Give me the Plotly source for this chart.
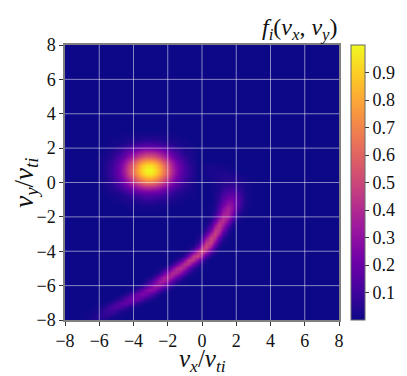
# Velocity-space distribution f_i(vx, vy): hot spot plus thin tail, plasma colormap
import numpy as np
import plotly.graph_objects as go

TICKS = [-8, -6, -4, -2, 0, 2, 4, 6, 8]
CBAR_TICKS = [0.1, 0.2, 0.3, 0.4, 0.5, 0.6, 0.7, 0.8, 0.9]
STEP = 0.25
vx = np.arange(-8, 8 + STEP, STEP)
vy = np.arange(-8, 8 + STEP, STEP)

# values, in percent of the colorbar: (vy, first vx, values every 0.25)
BLOB_ROWS = [
    (2.75, -6, [0, 0, 0, 0, 0, 1, 1, 1, 2, 2, 2, 2, 2, 2, 2, 2, 1, 1, 1, 0, 0, 0, 0]),
    (2.5, -6, [0, 0, 0, 1, 1, 1, 2, 3, 4, 4, 5, 5, 6, 5, 5, 4, 3, 2, 2, 1, 1, 0, 0]),
    (2.25, -6, [0, 0, 1, 1, 2, 3, 4, 6, 8, 10, 11, 12, 12, 11, 10, 8, 6, 5, 3, 2, 1, 1, 0]),
    (2.0, -6, [0, 1, 1, 2, 4, 6, 9, 12, 15, 18, 21, 22, 22, 21, 19, 16, 12, 9, 6, 4, 2, 2, 1]),
    (1.75, -6, [0, 1, 2, 4, 6, 10, 14, 20, 25, 31, 35, 38, 38, 36, 32, 27, 21, 15, 11, 7, 4, 3, 2]),
    (1.5, -6, [1, 2, 3, 6, 9, 15, 22, 30, 38, 46, 53, 57, 57, 54, 48, 40, 32, 23, 16, 10, 6, 4, 2]),
    (1.25, -6, [1, 2, 5, 8, 12, 20, 29, 40, 52, 63, 71, 77, 77, 73, 65, 54, 43, 31, 22, 14, 9, 5, 3]),
    (1.0, -6, [1, 3, 6, 9, 15, 24, 35, 48, 62, 75, 86, 92, 93, 87, 78, 65, 51, 37, 26, 17, 10, 7, 4]),
    (0.75, -6, [1, 3, 6, 10, 16, 26, 38, 52, 67, 81, 92, 99, 100, 94, 84, 70, 55, 40, 28, 18, 11, 7, 4]),
    (0.5, -6, [1, 3, 6, 10, 15, 25, 36, 50, 64, 77, 88, 95, 96, 90, 80, 67, 53, 38, 27, 17, 11, 7, 4]),
    (0.25, -6, [1, 2, 5, 8, 13, 21, 31, 42, 55, 66, 75, 81, 82, 77, 69, 57, 45, 33, 23, 15, 9, 6, 3]),
    (0.0, -6, [1, 2, 4, 6, 10, 16, 24, 32, 42, 50, 57, 62, 62, 59, 52, 44, 34, 25, 17, 11, 7, 4, 2]),
    (-0.25, -6, [0, 1, 3, 4, 7, 11, 16, 22, 28, 34, 39, 42, 42, 40, 36, 30, 23, 17, 12, 8, 5, 3, 2]),
    (-0.5, -6, [0, 1, 2, 3, 4, 7, 10, 13, 17, 21, 24, 25, 26, 24, 22, 18, 14, 10, 7, 5, 3, 2, 1]),
    (-0.75, -6, [0, 0, 1, 1, 2, 4, 5, 7, 9, 11, 13, 14, 14, 13, 12, 10, 8, 6, 4, 3, 2, 1, 1]),
    (-1.0, -6, [0, 0, 0, 1, 1, 2, 3, 3, 4, 5, 6, 7, 7, 6, 6, 5, 4, 3, 2, 1, 1, 0, 0]),
    (-1.25, -6, [0, 0, 0, 0, 0, 1, 1, 2, 2, 2, 3, 3, 3, 3, 2, 2, 2, 1, 1, 1, 0, 0, 0]),
    (-1.5, -6, [0, 0, 0, 0, 0, 0, 0, 1, 1, 1, 1, 1, 1, 1, 1, 1, 1, 0, 0, 0, 0, 0, 0]),
]

TAIL_ROWS = [
    (1.0, 0, [1, 2, 2, 2, 2, 1]),
    (0.75, 0, [1, 2, 3, 3, 3, 3, 2, 1]),
    (0.5, 0, [1, 2, 3, 3, 4, 4, 4, 3, 2, 1]),
    (0.25, 0.25, [1, 2, 3, 4, 5, 5, 5, 4, 2, 1]),
    (0.0, 0.5, [1, 2, 3, 5, 6, 7, 6, 4, 2, 1]),
    (-0.25, 0.5, [1, 2, 4, 7, 9, 10, 8, 5, 2, 1]),
    (-0.5, 0.75, [2, 5, 10, 14, 15, 12, 7, 3, 1]),
    (-0.75, 0.75, [3, 7, 14, 20, 22, 17, 10, 4, 1]),
    (-1.0, 0.75, [3, 9, 19, 28, 29, 21, 11, 4, 1]),
    (-1.25, 0.5, [1, 4, 12, 24, 35, 33, 22, 10, 3, 1]),
    (-1.5, 0.5, [1, 5, 16, 33, 42, 35, 19, 7, 2]),
    (-1.75, 0.5, [2, 8, 23, 40, 44, 30, 12, 3, 1]),
    (-2.0, 0.25, [1, 3, 13, 32, 47, 43, 24, 8, 2]),
    (-2.25, 0.25, [1, 7, 23, 44, 49, 31, 12, 3]),
    (-2.5, 0.25, [3, 15, 38, 53, 41, 18, 5, 1]),
    (-2.75, 0, [1, 8, 27, 51, 51, 28, 8, 1]),
    (-3.0, -0.25, [1, 4, 19, 44, 57, 40, 15, 3]),
    (-3.25, -0.25, [2, 13, 36, 57, 49, 22, 6, 1]),
    (-3.5, -0.5, [1, 8, 29, 54, 55, 30, 9, 1]),
    (-3.75, -0.75, [1, 5, 22, 49, 59, 39, 14, 3]),
    (-4.0, -1, [1, 5, 20, 46, 62, 46, 20, 5, 1]),
    (-4.25, -1.25, [2, 10, 30, 52, 57, 38, 16, 4, 1]),
    (-4.5, -1.75, [1, 4, 16, 36, 53, 51, 31, 13, 3]),
    (-4.75, -2, [2, 7, 20, 39, 51, 46, 28, 11, 3, 1]),
    (-5.0, -2.5, [1, 4, 12, 28, 45, 50, 39, 21, 8, 2]),
    (-5.25, -2.75, [2, 7, 19, 35, 47, 45, 32, 16, 6, 2]),
    (-5.5, -3.25, [1, 4, 12, 25, 39, 46, 39, 25, 12, 4, 1]),
    (-5.75, -3.5, [1, 5, 13, 25, 38, 42, 34, 20, 9, 3, 1]),
    (-6.0, -3.75, [2, 6, 16, 28, 37, 36, 26, 13, 5, 1]),
    (-6.25, -4.25, [1, 4, 11, 21, 31, 34, 28, 17, 8, 3, 1]),
    (-6.5, -4.75, [1, 4, 10, 18, 26, 30, 26, 18, 10, 4, 1]),
    (-6.75, -5.25, [1, 4, 8, 16, 23, 26, 23, 16, 8, 4, 1]),
    (-7.0, -5.75, [1, 3, 7, 13, 19, 21, 19, 13, 7, 3, 1]),
    (-7.25, -6.25, [1, 2, 5, 10, 14, 16, 14, 10, 5, 2, 1]),
    (-7.5, -6.5, [1, 2, 4, 8, 11, 11, 8, 4, 2, 1]),
    (-7.75, -6.75, [1, 2, 4, 6, 8, 7, 4, 2, 1]),
    (-8.0, -7, [1, 1, 3, 5, 4, 3, 1, 1]),
]
# tail rows came out a little hot against the reference colours
TAIL_LEVEL = 0.85

z = np.zeros((len(vy), len(vx)))
for rows, level in ((BLOB_ROWS, 1.0), (TAIL_ROWS, TAIL_LEVEL)):
    for row_vy, first_vx, values in rows:
        i = int(round((row_vy + 8) / STEP))
        j = int(round((first_vx + 8) / STEP))
        z[i, j : j + len(values)] += level * np.array(values) / 100.0

FONT = "Liberation Serif"
INK = "#111111"

fig = go.Figure()
fig.add_trace(
    go.Heatmap(
        x=vx,
        y=vy,
        z=z,
        zmin=0,
        zmax=1,
        zsmooth="best",
        colorscale="Plasma",
        colorbar=dict(
            thickness=14,
            thicknessmode="pixels",
            len=1,
            lenmode="fraction",
            x=1.0438,
            xanchor="left",
            xpad=0,
            ypad=0,
            y=0.5,
            yanchor="middle",
            tickvals=CBAR_TICKS,
            ticktext=[f"{t:.1f}" for t in CBAR_TICKS],
            ticks="outside",
            ticklen=4,
            tickcolor="#333333",
            tickfont=dict(family=FONT, size=18, color=INK),
            outlinecolor="#666666",
            outlinewidth=1,
        ),
    )
)

# grid sits on top of the image, so draw it as shapes
for t in TICKS[1:-1]:
    fig.add_shape(type="line", xref="x", yref="paper", x0=t, x1=t, y0=0, y1=1,
                  line=dict(color="rgba(255,255,255,0.5)", width=1), layer="above")
    fig.add_shape(type="line", xref="paper", yref="y", x0=0, x1=1, y0=t, y1=t,
                  line=dict(color="rgba(255,255,255,0.5)", width=1), layer="above")

axis_style = dict(
    range=[-8, 8],
    tickvals=TICKS,
    ticks="outside",
    ticklen=4,
    tickcolor="#333333",
    tickfont=dict(family=FONT, size=18, color=INK),
    showgrid=False,
    zeroline=False,
    showline=True,
    mirror=True,
    linecolor="#808080",
    linewidth=1.5,
    automargin=False,
)

# the page keeps its 8px body margin, so the figure is 8px smaller on each side
fig.update_layout(
    width=399,
    height=368,
    margin=dict(l=57, r=68, t=37, b=56, autoexpand=False),
    paper_bgcolor="white",
    plot_bgcolor="#0d0887",
    xaxis=axis_style,
    yaxis=axis_style,
    annotations=[
        dict(
            text="<i>f<sub>i</sub></i>(<i>v<sub>x</sub></i>, <i>v<sub>y</sub></i>)",
            xref="paper",
            yref="paper",
            x=1,
            y=1,
            xanchor="right",
            yanchor="bottom",
            showarrow=False,
            borderpad=0,
            font=dict(family=FONT, size=24, color=INK),
        ),
        dict(
            text="<i>v<sub>x</sub></i>/<i>v<sub>ti</sub></i>",
            xref="paper",
            yref="paper",
            x=0.5,
            y=-0.148,
            xanchor="center",
            yanchor="middle",
            showarrow=False,
            font=dict(family=FONT, size=25, color=INK),
        ),
        dict(
            text="<i>v<sub>y</sub></i>/<i>v<sub>ti</sub></i>",
            xref="paper",
            yref="paper",
            x=-0.145,
            y=0.5,
            xanchor="center",
            yanchor="middle",
            textangle=-90,
            showarrow=False,
            font=dict(family=FONT, size=27, color=INK),
        ),
    ],
)

fig.write_html("out.html")
